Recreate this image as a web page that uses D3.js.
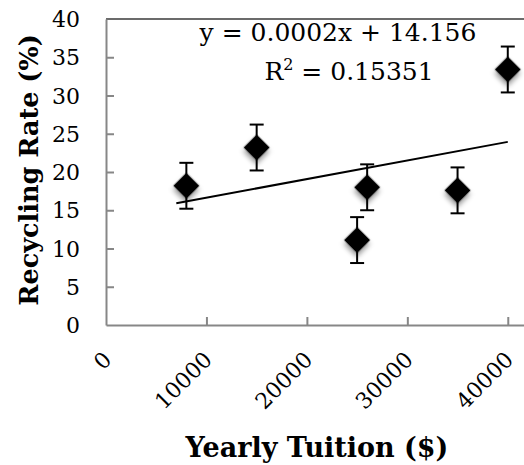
<!DOCTYPE html>
<html><head><meta charset="utf-8">
<script src="https://cdn.jsdelivr.net/npm/d3@7"></script>
<style>body{margin:0;background:#fff}svg{display:block}</style>
</head><body>
<script>
const tuition = [8000, 15000, 25000, 26000, 35000, 40000];
const recycling = [18.2, 23.2, 11.1, 18.0, 17.6, 33.4];
const errors = [3, 3, 3, 3, 3, 3];
const xTicks = [0, 10000, 20000, 30000, 40000];
const yTicks = [0, 5, 10, 15, 20, 25, 30, 35, 40];
const trendStart = 7000;
const eqLabel = "y = 0.0002x + 14.156";
const r2Value = "0.15351";
const xTitle = "Yearly Tuition ($)";
const yTitle = "Recycling Rate (%)";

const W = 524, H = 465;
const svg = d3.select("body").append("svg").attr("width", W).attr("height", H);
const defs = svg.append("defs");
const f = defs.append("filter").attr("id","sh").attr("x","-50%").attr("y","-50%").attr("width","200%").attr("height","200%");
f.append("feDropShadow").attr("dx",2.5).attr("dy",3).attr("stdDeviation",2.5).attr("flood-color","#000").attr("flood-opacity",0.4);

const x = d3.scaleLinear().domain([0, 45000]).range([106, 558]);
const y = d3.scaleLinear().domain([0, 40]).range([325, 19]);
const font = "'DejaVu Serif', 'Liberation Serif', serif";
const axisCol = "#878787";

// top border
svg.append("line").attr("x1", x(0)).attr("x2", x(45000)).attr("y1", y(40)).attr("y2", y(40))
  .attr("stroke", "#3a3a3a").attr("stroke-width", 1.5);

// axes with inward ticks
const yAxis = svg.append("g").attr("transform", `translate(${x(0)},0)`)
  .call(d3.axisRight(y).tickValues(yTicks).tickSize(8).tickSizeOuter(0).tickFormat(""));
yAxis.selectAll("path,line").attr("stroke", axisCol).attr("stroke-width", 2);
yAxis.selectAll(".tick").filter(d => d === 0 || d === 40).select("line").remove();
const xAxis = svg.append("g").attr("transform", `translate(0,${y(0)})`)
  .call(d3.axisTop(x).tickValues(xTicks).tickSize(8).tickSizeOuter(0).tickFormat(""));
xAxis.selectAll("path,line").attr("stroke", axisCol).attr("stroke-width", 2);
xAxis.selectAll(".tick").filter(d => d === 0).select("line").remove();

// y tick labels
svg.append("g").selectAll("text").data(yTicks).join("text")
  .attr("x", 80).attr("y", d => y(d)).attr("dy", "0.37em")
  .attr("text-anchor", "end").attr("font-family", font).attr("font-size", 22)
  .attr("fill", "#000").text(d => d);

// x tick labels rotated
svg.append("g").selectAll("text").data(xTicks).join("text")
  .attr("transform", d => `translate(${x(d) + 7},${y(0) + 36}) rotate(-45)`)
  .attr("text-anchor", "end").attr("font-family", font).attr("font-size", 22)
  .attr("fill", "#000").text(d => d);

// trendline (least squares)
const n = tuition.length;
const mx = d3.mean(tuition), my = d3.mean(recycling);
let sxy = 0, sxx = 0;
for (let i = 0; i < n; i++) { sxy += (tuition[i]-mx)*(recycling[i]-my); sxx += (tuition[i]-mx)**2; }
const slope = sxy / sxx, icpt = my - slope * mx;
const tEnd = d3.max(tuition);
svg.append("line")
  .attr("x1", x(trendStart)).attr("y1", y(icpt + slope*trendStart))
  .attr("x2", x(tEnd)).attr("y2", y(icpt + slope*tEnd))
  .attr("stroke", "#000").attr("stroke-width", 2);

// error bars
const eb = svg.append("g").attr("stroke", "#000").attr("stroke-width", 2);
tuition.forEach((t, i) => {
  const cx = x(t), top = y(recycling[i] + errors[i]), bot = y(recycling[i] - errors[i]);
  eb.append("line").attr("x1", cx).attr("x2", cx).attr("y1", top).attr("y2", bot);
  eb.append("line").attr("x1", cx-7).attr("x2", cx+7).attr("y1", top).attr("y2", top);
  eb.append("line").attr("x1", cx-7).attr("x2", cx+7).attr("y1", bot).attr("y2", bot);
});

// markers
const sym = d3.symbol().type(d3.symbolSquare).size(340);
svg.append("g").selectAll("path").data(tuition).join("path")
  .attr("d", sym)
  .attr("transform", (d, i) => `translate(${x(d)},${y(recycling[i])}) rotate(45)`)
  .attr("fill", "#000").attr("filter", "url(#sh)");

// equation
svg.append("text").attr("x", 338).attr("y", 41).attr("text-anchor", "middle")
  .attr("font-family", font).attr("font-size", 25).attr("fill", "#000").text(eqLabel);
const r2 = svg.append("text").attr("x", 349).attr("y", 80).attr("text-anchor", "middle")
  .attr("font-family", font).attr("font-size", 25).attr("fill", "#000");
r2.append("tspan").text("R");
r2.append("tspan").attr("font-size", 16).attr("dy", -10).text("2");
r2.append("tspan").attr("dy", 10).text(" = " + r2Value);

// axis titles
svg.append("text").attr("x", 317).attr("y", 457).attr("text-anchor", "middle")
  .attr("font-family", font).attr("font-weight", "bold").attr("font-size", 27).attr("fill", "#000").text(xTitle);
svg.append("text").attr("transform", "translate(38,170) rotate(-90)").attr("text-anchor", "middle")
  .attr("font-family", font).attr("font-weight", "bold").attr("font-size", 25.5).attr("fill", "#000").text(yTitle);
</script>
</body></html>
